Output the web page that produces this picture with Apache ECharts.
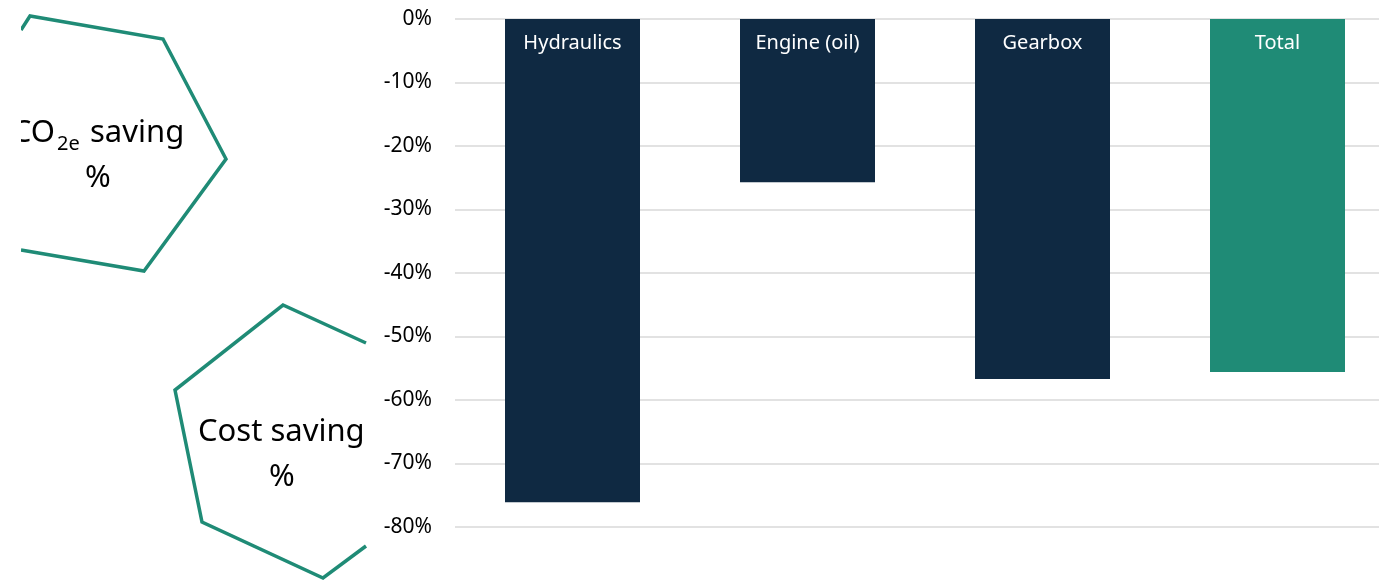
<!DOCTYPE html>
<html>
<head>
<meta charset="utf-8">
<script src="https://cdn.jsdelivr.net/npm/echarts@6/dist/echarts.min.js"></script>
<style>
html,body{margin:0;padding:0;background:#fff;}
#chart{width:1379px;height:582px;}
</style>
</head>
<body>
<div id="chart"></div>
<script>
const categories = ['Hydraulics', 'Engine (oil)', 'Gearbox', 'Total'];
const savings = [-76.1, -25.7, -56.7, -55.6];
const barColors = ['#0f2942', '#0f2942', '#0f2942', '#1f8b76'];
const yTicks = { min: -80, max: 0, interval: 10 };

const teal = '#1f8b76';
const font = '"Noto Sans", "Open Sans", sans-serif';

const chart = echarts.init(document.getElementById('chart'), null, { renderer: 'canvas' });

chart.setOption({
  animation: false,
  backgroundColor: '#fff',
  grid: { left: 455, width: 940, top: 19, height: 508, containLabel: false, outerBoundsMode: 'none' },
  xAxis: {
    type: 'category',
    data: categories,
    position: 'top',
    axisLine: { show: false },
    axisTick: { show: false },
    axisLabel: { show: false },
    splitLine: { show: false }
  },
  yAxis: {
    type: 'value',
    min: yTicks.min,
    max: yTicks.max,
    interval: yTicks.interval,
    axisLine: { show: false },
    axisTick: { show: false },
    axisLabel: {
      formatter: '{value}%',
      color: '#000',
      fontFamily: font,
      fontSize: 21,
      margin: 23
    },
    splitLine: { lineStyle: { color: '#d9d9d9', width: 1.5 } }
  },
  series: [{
    type: 'bar',
    barWidth: 135,
    data: savings.map((v, i) => ({ value: v, itemStyle: { color: barColors[i] } })),
    label: {
      show: true,
      position: 'insideTop',
      distance: 14,
      formatter: p => categories[p.dataIndex],
      color: '#fff',
      fontFamily: font,
      fontSize: 20
    }
  }],
  graphic: [
    // top hexagon (partially clipped at left)
    {
      type: 'polyline', z: 10,
      shape: { points: [[21, 30], [30, 16], [163, 39], [226, 159], [144, 271], [21, 250]] },
      style: { stroke: teal, lineWidth: 3.5, fill: null, lineJoin: 'miter' }
    },
    { type: 'text', z: 10, style: { text: 'CO', x: 55, y: 133, align: 'right', verticalAlign: 'middle', font: '31px ' + font, fill: '#000' } },
    { type: 'text', z: 10, style: { text: '2e', x: 57, y: 144, align: 'left', verticalAlign: 'middle', font: '20px ' + font, fill: '#000' } },
    { type: 'text', z: 10, style: { text: 'saving', x: 90, y: 133, align: 'left', verticalAlign: 'middle', font: '31px ' + font, fill: '#000' } },
    { type: 'text', z: 10, style: { text: '%', x: 98, y: 178, align: 'center', verticalAlign: 'middle', font: '31px ' + font, fill: '#000' } },
    { type: 'rect', z: 11, shape: { x: 0, y: 0, width: 21, height: 290 }, style: { fill: '#fff' } },
    // bottom hexagon (partially clipped at right)
    {
      type: 'polyline', z: 10,
      shape: { points: [[366, 343], [283, 305], [175, 390], [202, 522], [323, 578], [366, 546]] },
      style: { stroke: teal, lineWidth: 3.5, fill: null, lineJoin: 'miter' }
    },
    { type: 'text', z: 10, style: { text: 'Cost saving', x: 198, y: 432, align: 'left', verticalAlign: 'middle', font: '31px ' + font, fill: '#000' } },
    { type: 'text', z: 10, style: { text: '%', x: 282, y: 477, align: 'center', verticalAlign: 'middle', font: '31px ' + font, fill: '#000' } },
    { type: 'rect', z: 11, shape: { x: 366, y: 395, width: 14, height: 70 }, style: { fill: '#fff' } }
  ]
});
</script>
</body>
</html>
